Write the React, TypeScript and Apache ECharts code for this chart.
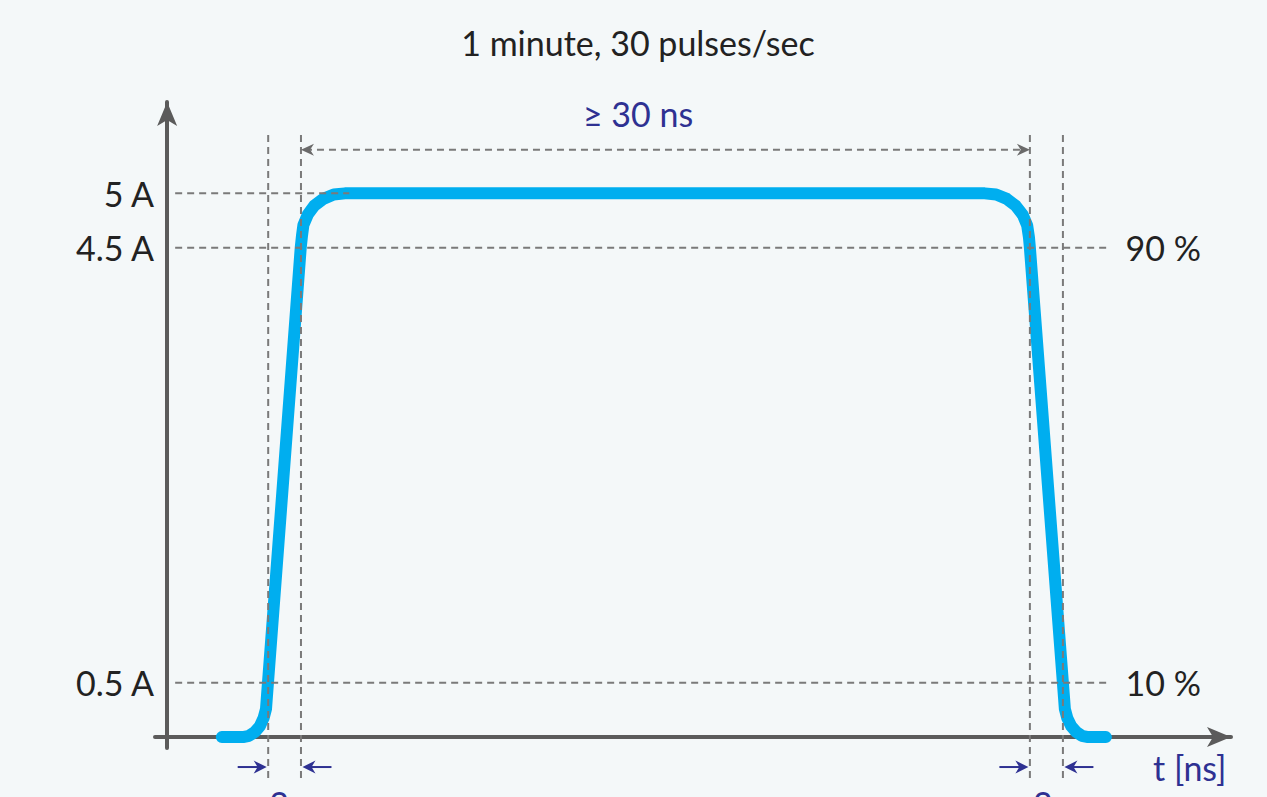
import React, { useEffect, useRef } from 'react';
import * as echarts from 'echarts';

// ---- data (t in ns-like units, current in A) ----
const pulseT = [2.25, 3.12, 3.37, 3.61, 3.82, 3.97, 4.07, 4.1, 5.5, 5.55, 5.61, 5.79, 6.06, 6.43, 6.86, 7.32,
  33.66, 34.13, 34.57, 34.94, 35.23, 35.41, 35.48, 35.52, 36.93, 36.96, 37.06, 37.22, 37.43, 37.66, 37.92, 38.65];
const pulseI = [0, 0, 0.012, 0.047, 0.102, 0.175, 0.259, 0.349, 4.5, 4.607, 4.709, 4.805, 4.887, 4.949, 4.989, 5.0,
  5.0, 4.989, 4.949, 4.885, 4.801, 4.704, 4.598, 4.5, 0.349, 0.259, 0.175, 0.102, 0.047, 0.012, 0, 0];

const yTickValues = [0.5, 4.5, 5];
const yTickLabels = ['0.5 A', '4.5 A', '5 A'];

const levelValues = [5, 4.5, 0.5];
const levelStart = [0.33, 0.33, 0.33];
const levelEnd = [7.5, 38.8, 38.8];

const percentLevels = [4.5, 0.5];
const percentLabels = ['90 %', '10 %'];

const markerT = [4.16, 5.51, 35.52, 36.88];
const markerTop = 5.536;
const markerBottom = -0.413;

const widthArrowLevel = 5.4;
const widthLabel = '≥ 30 ns';
const edgeArrowLevel = -0.275;
const edgeLabel = '2 ns';

const titleText = '1 minute, 30 pulses/sec';
const xAxisName = 't [ns]';

const FONT = 'Lato, "Open Sans", sans-serif';
const FS = 34;
const BLUE_TXT = '#2e3192';
const GRAY = '#7a7a7a';
const DARK = '#222222';

export default function App() {
  const ref = useRef<HTMLDivElement>(null);
  useEffect(() => {
    document.body.style.margin = '0';
    const chart = echarts.init(ref.current!, undefined, { renderer: 'svg' });
    const labelMap: Record<string, string> = {};
    yTickValues.forEach((v, k) => (labelMap[String(v)] = yTickLabels[k]));
    chart.setOption({
      animation: false,
      backgroundColor: '#f4f8f9',
      grid: { left: 155, right: 36, top: 102, bottom: 49, containLabel: false },
      xAxis: {
        type: 'value', min: -0.5, max: 43.8,
        axisLine: { show: true, onZero: true, symbol: ['none', 'arrow'], symbolSize: [15, 24], lineStyle: { color: '#5b5b5b', width: 4 } },
        axisTick: { show: false }, axisLabel: { show: false }, splitLine: { show: false },
      },
      yAxis: {
        type: 'value', min: -0.1, max: 5.84,
        axisLine: { show: true, onZero: true, symbol: ['none', 'arrow'], symbolSize: [15, 24], lineStyle: { color: '#5b5b5b', width: 4 } },
        axisTick: { show: false }, splitLine: { show: false },
        axisLabel: {
          show: true, customValues: yTickValues, margin: 1,
          formatter: (v: number) => labelMap[String(v)] ?? '',
          color: DARK, fontSize: FS, fontFamily: FONT,
        },
      },
      series: [{
        type: 'line', data: pulseT.map((t, k) => [t, pulseI[k]]), showSymbol: false, clip: false, z: 3,
        lineStyle: { color: '#00aeef', width: 12, cap: 'round', join: 'round' },
      }],
    });

    const p = (t: number, i: number) => chart.convertToPixel({ gridIndex: 0 }, [t, i]) as number[];
    const g: any[] = [];
    const dash = (a: number[], b: number[]) => ({
      type: 'line', z: 10, shape: { x1: a[0], y1: a[1], x2: b[0], y2: b[1] },
      style: { stroke: GRAY, lineWidth: 2, lineDash: [7, 5] },
    });
    levelValues.forEach((v, k) => g.push(dash(p(levelStart[k], v), p(levelEnd[k], v))));
    markerT.forEach((t) => g.push(dash(p(t, markerTop), p(t, markerBottom))));

    const head = (tip: number[], dir: number, color: string, len: number, half: number) => ({
      type: 'polygon', z: 11,
      shape: { points: [[tip[0], tip[1]], [tip[0] - dir * len, tip[1] - half], [tip[0] - dir * len * 0.7, tip[1]], [tip[0] - dir * len, tip[1] + half]] },
      style: { fill: color },
    });
    // width arrow
    const wa = p(markerT[1], widthArrowLevel);
    const wb = p(markerT[2], widthArrowLevel);
    g.push(dash([wa[0] + 4, wa[1]], [wb[0] - 4, wb[1]]));
    g.push(head(wa, -1, '#6a6a6a', 13, 6));
    g.push(head(wb, 1, '#6a6a6a', 13, 6));

    // edge arrows
    const edgeArrow = (t: number, dir: number) => {
      const tip = p(t, edgeArrowLevel);
      tip[0] -= dir * 1.5;
      g.push({ type: 'line', z: 11, shape: { x1: tip[0] - dir * 29, y1: tip[1], x2: tip[0] - dir * 6, y2: tip[1] }, style: { stroke: BLUE_TXT, lineWidth: 2 } });
      g.push(head(tip, dir, BLUE_TXT, 13, 6.5));
    };
    edgeArrow(markerT[0], 1);
    edgeArrow(markerT[1], -1);
    edgeArrow(markerT[2], 1);
    edgeArrow(markerT[3], -1);

    const txt = (x: number, y: number, text: string, color: string, align: string, vAlign = 'middle') => ({
      type: 'text', z: 12, x, y,
      style: { text, fill: color, font: `${FS}px ${FONT}`, align, verticalAlign: vAlign },
    });
    g.push(txt(638, 42, titleText, DARK, 'center'));
    g.push(txt(638, 113, widthLabel, BLUE_TXT, 'center'));
    percentLevels.forEach((v, k) => {
      const q = p(levelEnd[1], v);
      g.push(txt(q[0] + 16, q[1], percentLabels[k], DARK, 'left'));
    });
    g.push(txt(1153, 767, xAxisName, BLUE_TXT, 'left'));
    g.push(txt(p(markerT[0], 0)[0] + 1, 786, edgeLabel, BLUE_TXT, 'left', 'top'));
    g.push(txt(p(markerT[2], 0)[0] + 3, 786, edgeLabel, BLUE_TXT, 'left', 'top'));

    chart.setOption({ graphic: g });
    return () => chart.dispose();
  }, []);
  return <div ref={ref} style={{ width: 1267, height: 797, position: 'absolute', left: 0, top: 0 }} />;
}
